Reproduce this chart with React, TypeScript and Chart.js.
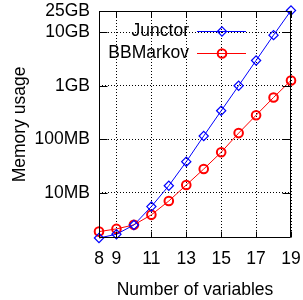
import React, { useEffect, useRef } from "react";
import { Chart, registerables } from "chart.js";

Chart.register(...registerables);

// ---- data ----
const variables = [8, 9, 10, 11, 12, 13, 14, 15, 16, 17, 18, 19];
const junctorMB = [1.42, 1.67, 2.49, 5.5, 13.5, 38, 115, 340, 1000, 2970, 8830, 25500];
const bbmarkovMB = [1.87, 2.1, 2.5, 3.85, 7.0, 13.9, 27.7, 57, 130, 281, 603, 1257];
const seriesNames = ["Junctor", "BBMarkov"];
const xTickValues = [8, 9, 11, 13, 15, 17, 19];
const yTickValues = [10, 100, 1000, 10000, 25000];
const yTickLabels = ["10MB", "100MB", "1GB", "10GB", "25GB"];
const yMin = 1.42;
const yMax = 25000;
const xTitle = "Number of variables";
const yTitle = "Memory usage";

const FONT_FAMILY = "'Liberation Sans', Arial, sans-serif";
const FONT_SIZE = 17.5;
const BLUE = "#0000ff";
const RED = "#ff0000";

const framePlugin = {
  id: "gnuplotFrame",
  afterDatasetsDraw(chart: any) {
    const { ctx, chartArea } = chart;
    const { left, right, top, bottom } = chartArea;
    const xs = chart.scales.x;
    const ys = chart.scales.y;
    ctx.save();
    ctx.strokeStyle = "#000";
    ctx.lineWidth = 1;
    ctx.setLineDash([]);
    const L = Math.round(left) + 0.5;
    const R = Math.round(right) - 0.5;
    const T = Math.round(top) + 0.5;
    const B = Math.round(bottom) - 0.5;
    ctx.beginPath();
    ctx.rect(L, T, R - L, B - T);
    ctx.stroke();
    // inward tick marks on all four sides
    ctx.beginPath();
    const yTick = 8;
    const xTick = 6;
    for (const v of yTickValues) {
      const y = Math.round(ys.getPixelForValue(v)) + 0.5;
      ctx.moveTo(L, y);
      ctx.lineTo(L + yTick, y);
      ctx.moveTo(R, y);
      ctx.lineTo(R - yTick, y);
    }
    for (const v of xTickValues) {
      const x = Math.round(xs.getPixelForValue(v)) + 0.5;
      ctx.moveTo(x, B);
      ctx.lineTo(x, B - xTick);
      ctx.moveTo(x, T);
      ctx.lineTo(x, T + xTick);
    }
    ctx.stroke();
    ctx.restore();
  },
  afterDraw(chart: any) {
    const { ctx } = chart;
    const rows = [
      { label: seriesNames[0], color: BLUE, style: "rectRot", radius: 4.6, width: 1.2, y: 31 },
      { label: seriesNames[1], color: RED, style: "circle", radius: 4.3, width: 2, y: 53 },
    ];
    ctx.save();
    ctx.font = `${FONT_SIZE}px ${FONT_FAMILY}`;
    ctx.textAlign = "right";
    ctx.textBaseline = "middle";
    for (const r of rows) {
      ctx.fillStyle = "#000";
      ctx.fillText(r.label, 189, r.y);
      ctx.strokeStyle = r.color;
      ctx.lineWidth = 1;
      ctx.beginPath();
      ctx.moveTo(197, r.y + 0.5);
      ctx.lineTo(246, r.y + 0.5);
      ctx.stroke();
      ctx.lineWidth = r.width;
      ctx.beginPath();
      if (r.style === "circle") {
        ctx.arc(222, r.y + 0.5, r.radius, 0, Math.PI * 2);
      } else {
        ctx.moveTo(222 - r.radius, r.y + 0.5);
        ctx.lineTo(222, r.y + 0.5 - r.radius);
        ctx.lineTo(222 + r.radius, r.y + 0.5);
        ctx.lineTo(222, r.y + 0.5 + r.radius);
        ctx.closePath();
      }
      ctx.stroke();
    }
    ctx.restore();
  },
};

const zeroPadding = (s: any) => {
  s.paddingTop = 0;
  s.paddingBottom = 0;
  s.paddingLeft = 0;
  s.paddingRight = 0;
};

export default function App() {
  const canvasRef = useRef<HTMLCanvasElement | null>(null);

  useEffect(() => {
    if (!canvasRef.current) return;
    const font = { family: FONT_FAMILY, size: FONT_SIZE };
    const chart = new Chart(canvasRef.current, {
      type: "line",
      data: {
        datasets: [
          {
            label: seriesNames[0],
            data: variables.map((v, i) => ({ x: v, y: junctorMB[i] })),
            borderColor: BLUE,
            borderWidth: 1,
            pointStyle: "rectRot",
            pointRadius: 4.6,
            pointBorderWidth: 1.2,
            pointBorderColor: BLUE,
            pointBackgroundColor: "rgba(0,0,0,0)",
            clip: false as any,
          },
          {
            label: seriesNames[1],
            data: variables.map((v, i) => ({ x: v, y: bbmarkovMB[i] })),
            borderColor: RED,
            borderWidth: 1,
            pointStyle: "circle",
            pointRadius: 4.3,
            pointBorderWidth: 2,
            pointBorderColor: RED,
            pointBackgroundColor: "rgba(0,0,0,0)",
            clip: false as any,
          },
        ],
      },
      options: {
        animation: false,
        responsive: true,
        maintainAspectRatio: false,
        layout: { padding: { left: 0, right: 12, top: 11, bottom: 0 } },
        plugins: {
          legend: { display: false },
          tooltip: { enabled: false },
        },
        scales: {
          x: {
            type: "linear",
            min: 8,
            max: 19,
            afterBuildTicks: (s: any) => {
              s.ticks = xTickValues.map((v) => ({ value: v }));
            },
            afterFit: (s: any) => {
              s.height = 62;
              zeroPadding(s);
            },
            ticks: {
              font,
              color: "#000",
              padding: 11,
              autoSkip: false,
              maxRotation: 0,
              callback: (v: any) => String(v),
            },
            grid: { color: "#000", lineWidth: 1, drawTicks: false },
            border: { display: false, dash: [1, 2] },
            title: {
              display: true,
              text: xTitle,
              font,
              color: "#000",
              padding: { top: 0, bottom: -1 },
            },
          },
          y: {
            type: "logarithmic",
            min: yMin,
            max: yMax,
            afterBuildTicks: (s: any) => {
              s.ticks = yTickValues.map((v) => ({ value: v }));
            },
            afterFit: (s: any) => {
              s.width = 99;
              zeroPadding(s);
            },
            ticks: {
              font,
              color: "#000",
              padding: 9,
              autoSkip: false,
              callback: (v: any) => {
                const i = yTickValues.indexOf(Number(v));
                return i >= 0 ? yTickLabels[i] : "";
              },
            },
            grid: { color: "#000", lineWidth: 1, drawTicks: false },
            border: { display: false, dash: [1, 2] },
            title: {
              display: true,
              text: yTitle,
              font,
              color: "#000",
              padding: { top: 10, bottom: 0 },
            },
          },
        },
      },
      plugins: [framePlugin],
    } as any);
    return () => chart.destroy();
  }, []);

  return (
    <div style={{ position: "fixed", left: 0, top: 0, width: 303, height: 300, background: "#fff" }}>
      <canvas ref={canvasRef} />
    </div>
  );
}
